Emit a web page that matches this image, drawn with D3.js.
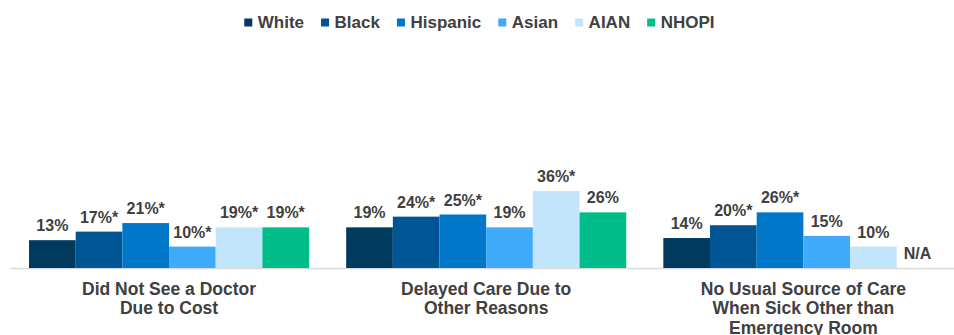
<!DOCTYPE html>
<html>
<head>
<meta charset="utf-8">
<script src="https://cdn.jsdelivr.net/npm/d3@7"></script>
<style>
  html, body { margin: 0; padding: 0; background: #ffffff; }
  svg { display: block; font-family: "Liberation Sans", Arial, sans-serif; }
</style>
</head>
<body>
<svg id="chart" width="954" height="335"></svg>
<script>
// ---- data ----
const categories = [
  ["Did Not See a Doctor", "Due to Cost"],
  ["Delayed Care Due to", "Other Reasons"],
  ["No Usual Source of Care", "When Sick Other than", "Emergency Room"]
];
const series = ["White", "Black", "Hispanic", "Asian", "AIAN", "NHOPI"];
const colors = ["#003a5f", "#005595", "#0077c8", "#3fa9fa", "#c3e5fc", "#00bd8a"];
const whiteValues    = [13, 19, 14];
const blackValues    = [17, 24, 20];
const hispanicValues = [21, 25, 26];
const asianValues    = [10, 19, 15];
const aianValues     = [19, 36, 10];
const nhopiValues    = [19, 26, null];
const whiteSig    = [false, false, false];
const blackSig    = [true, true, true];
const hispanicSig = [true, true, true];
const asianSig    = [true, false, false];
const aianSig     = [true, true, false];
const nhopiSig    = [true, false, false];

const valuesBySeries = [whiteValues, blackValues, hispanicValues, asianValues, aianValues, nhopiValues];
const sigBySeries = [whiteSig, blackSig, hispanicSig, asianSig, aianSig, nhopiSig];

const textColor = "#404040";
const svg = d3.select("#chart");

// ---- scales ----
const x0 = d3.scaleBand()
  .domain(d3.range(categories.length))
  .range([10.4, 962])
  .paddingInner(0.117)
  .paddingOuter(0.0587);
const x1 = d3.scaleBand()
  .domain(series)
  .range([0, x0.bandwidth()]);
const y = d3.scaleLinear().domain([0, 40]).range([268, 182.4]);

// ---- axis line ----
svg.append("line")
  .attr("x1", x0.range()[0]).attr("x2", x0.range()[1])
  .attr("y1", y(0) + 0.5).attr("y2", y(0) + 0.5)
  .attr("stroke", "#d9d9d9").attr("stroke-width", 1.5);

// ---- bars ----
const groups = svg.selectAll("g.grp")
  .data(categories)
  .join("g")
  .attr("class", "grp")
  .attr("transform", (d, i) => `translate(${x0(i)},0)`);

groups.each(function (cat, ci) {
  const g = d3.select(this);
  series.forEach((s, si) => {
    const v = valuesBySeries[si][ci];
    if (v === null) {
      g.append("text")
        .attr("x", x1(s) + 7)
        .attr("y", y(0) - 9)
        .attr("font-size", 16).attr("font-weight", "bold")
        .attr("fill", textColor)
        .text("N/A");
      return;
    }
    g.append("rect")
      .attr("x", x1(s))
      .attr("y", y(v))
      .attr("width", x1.bandwidth())
      .attr("height", y(0) - y(v))
      .attr("fill", colors[si]);
    g.append("text")
      .attr("x", x1(s) + x1.bandwidth() / 2)
      .attr("y", y(v) - 9)
      .attr("text-anchor", "middle")
      .attr("font-size", 16).attr("font-weight", "bold")
      .attr("fill", textColor)
      .text(v + "%" + (sigBySeries[si][ci] ? "*" : ""));
  });
  // category label
  const t = g.append("text")
    .attr("text-anchor", "middle")
    .attr("font-size", 17.5).attr("font-weight", "bold")
    .attr("fill", textColor);
  cat.forEach((line, li) => {
    t.append("tspan")
      .attr("x", x0.bandwidth() / 2)
      .attr("y", 294.5 + li * 19.5)
      .text(line);
  });
});

// ---- legend ----
const legend = svg.append("g");
let cx = 0;
series.forEach((s, i) => {
  const item = legend.append("g").attr("transform", `translate(${cx},0)`);
  item.append("rect").attr("x", 0).attr("y", 18.5).attr("width", 8).attr("height", 8).attr("fill", colors[i]);
  const tx = item.append("text").attr("x", 13.5).attr("y", 27.5)
    .attr("font-size", 17).attr("font-weight", "bold").attr("fill", textColor).text(s);
  cx += 13.5 + tx.node().getComputedTextLength() + 17;
});
const legendWidth = cx - 17;
legend.attr("transform", `translate(${479.4 - legendWidth / 2},0)`);
</script>
</body>
</html>
